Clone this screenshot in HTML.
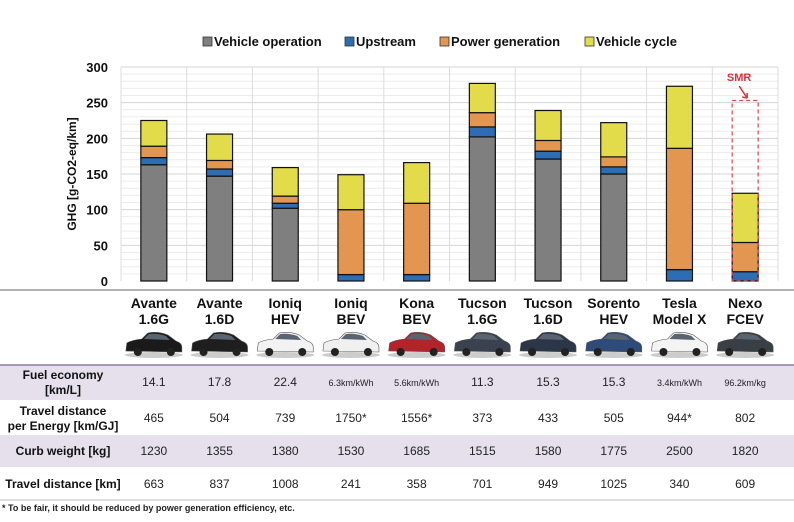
<!DOCTYPE html>
<html><head><meta charset="utf-8"><style>
body{margin:0;background:#fff;font-family:"Liberation Sans","Noto Sans CJK KR",sans-serif;}
svg text{font-family:"Liberation Sans","Noto Sans CJK KR",sans-serif;}
</style></head><body>
<svg id="c" width="794" height="517" viewBox="0 0 794 517"></svg>
<script>
const categories=[["Avante","1.6G"],["Avante","1.6D"],["Ioniq","HEV"],["Ioniq","BEV"],["Kona","BEV"],["Tucson","1.6G"],["Tucson","1.6D"],["Sorento","HEV"],["Tesla","Model X"],["Nexo","FCEV"]];
const vehicleOperation=[163,147,102,0,0,202,171,150,0,0];
const upstream=[10,10,7,9,9,14,11,10,16,13];
const powerGeneration=[16,12,10,91,100,20,15,14,170,41];
const vehicleCycle=[36,37,40,49,57,41,42,48,87,69];
const smrTotal=253;
const yTicks=[0,50,100,150,200,250,300];
const carColors=["#1a1a1a","#1e1e1e","#f2f2f2","#f0f0f0","#b3232a","#3a4250","#2b3648","#2f4b7a","#f4f4f4","#3a3f45"];
const rowLabels=[["Fuel economy","[km/L]"],["Travel distance","per Energy [km/GJ]"],["Curb weight [kg]"],["Travel distance [km]"]];
const fuelEconomy=["14.1","17.8","22.4","6.3km/kWh","5.6km/kWh","11.3","15.3","15.3","3.4km/kWh","96.2km/kg"];
const travelPerEnergy=["465","504","739","1750*","1556*","373","433","505","944*","802"];
const curbWeight=["1230","1355","1380","1530","1685","1515","1580","1775","2500","1820"];
const travelDistance=["663","837","1008","241","358","701","949","1025","340","609"];

const svg=document.getElementById('c');const NS="http://www.w3.org/2000/svg";
function mk(t,a,p){const e=document.createElementNS(NS,t);for(const k in a)e.setAttribute(k,a[k]);(p||svg).appendChild(e);return e;}
const x0=121,x1=778,yTop=67,yBot=281,yMax=300;
const band=(x1-x0)/categories.length;
const y=v=>yBot-(v/yMax)*(yBot-yTop);
const cx=i=>x0+band*(i+0.5);
// minor grid
for(let v=10;v<=yMax;v+=10){const g=mk('line',{x1:x0,x2:x1,y1:y(v),y2:y(v),stroke:v%50?'#ececec':'#d4d4d4','stroke-width':1});}
for(let i=0;i<=categories.length;i++){const g=mk('line',{x1:x0+band*i,x2:x0+band*i,y1:yTop,y2:yBot,stroke:'#dcdcdc'});}
yTicks.forEach(v=>{const t=mk('text',{x:108,y:y(v)+5,'text-anchor':'end','font-size':13,'font-weight':'bold',fill:'#111'});t.textContent=v;});
const yt=mk('text',{x:0,y:0,transform:'translate(76,174) rotate(-90)','text-anchor':'middle','font-size':12,'font-weight':'bold',fill:'#111'});yt.textContent='GHG [g-CO2-eq/km]';
const series=[[vehicleOperation,'#7f7f7f','vehicle-operation'],[upstream,'#2e6db4','upstream'],[powerGeneration,'#e3964f','power-generation'],[vehicleCycle,'#e3dc4a','vehicle-cycle']];
const bw=26;
categories.forEach((c,i)=>{let base=0;series.forEach(s=>{const v=s[0][i];if(v>0){const r=mk('rect',{x:cx(i)-bw/2,y:y(base+v),width:bw,height:y(base)-y(base+v),fill:s[1],stroke:'#111','stroke-width':1.2});}base+=v;});});
// SMR dashed
{const i=9;const r=mk('rect',{x:cx(i)-bw/2,y:y(smrTotal),width:bw,height:y(0)-y(smrTotal),fill:'none',stroke:'#e0464a','stroke-dasharray':'4,3','stroke-width':1.2});
const t=mk('text',{x:cx(i)-6,y:81,'text-anchor':'middle','font-size':11,'font-weight':'bold',fill:'#d8343a'});t.textContent='SMR';
const a=mk('path',{d:`M${cx(i)-6} 86 L${cx(i)+2} 98 M${cx(i)+2} 98 l-5 -1 M${cx(i)+2} 98 l0 -5`,stroke:'#d8343a','stroke-width':1.5,fill:'none'});}
// legend
const leg=[[203,'Vehicle operation','#7f7f7f'],[345,'Upstream','#2e6db4'],[440,'Power generation','#e3964f'],[585,'Vehicle cycle','#e3dc4a']];
leg.forEach(l=>{const g=mk('g',{});mk('rect',{x:l[0],y:37,width:9,height:9,fill:l[2],stroke:'#333','stroke-width':0.8},g);const t=mk('text',{x:l[0]+11,y:46,'font-size':13,'font-weight':'bold',fill:'#111'},g);t.textContent=l[1];});
// table
mk('line',{x1:0,x2:794,y1:290,y2:290,stroke:'#999','stroke-width':1.5});
[[365,35],[435,32]].forEach(r=>{const e=mk('rect',{x:0,y:r[0],width:794,height:r[1],fill:'#e5e0ec'});});
mk('line',{x1:0,x2:794,y1:365,y2:365,stroke:'#8a7a9e','stroke-width':1.5});
mk('line',{x1:0,x2:794,y1:500,y2:500,stroke:'#bbb','stroke-width':1});
categories.forEach((c,i)=>{const t1=mk('text',{x:cx(i),y:308,'text-anchor':'middle','font-size':14,'font-weight':'bold',fill:'#111'});t1.textContent=c[0];
const t2=mk('text',{x:cx(i),y:324,'text-anchor':'middle','font-size':14,'font-weight':'bold',fill:'#111'});t2.textContent=c[1];
const g=mk('g',{transform:`translate(${cx(i)},345)`});
mk('ellipse',{cx:0,cy:10,rx:29,ry:3,fill:'#ccc'},g);
mk('path',{d:'M-28 6 L-27 -2 Q-22 -5 -12 -6 L-6 -12 Q4 -14 14 -10 L22 -4 Q28 -2 28 2 L28 7 Z',fill:carColors[i],stroke:'#555','stroke-width':0.6},g);
mk('path',{d:'M-10 -6 L-5 -11 Q4 -12 12 -9 L16 -5 Z',fill:'#5a6470'},g);
mk('circle',{cx:-16,cy:7,r:4,fill:'#222'},g);mk('circle',{cx:17,cy:7,r:4,fill:'#222'},g);});
const rows=[[382,fuelEconomy],[418,travelPerEnergy],[451,curbWeight],[484,travelDistance]];
rowLabels.forEach((l,r)=>{const yy=rows[r][0];if(l.length===2){[0,1].forEach(k=>{const t=mk('text',{x:63,y:yy-3+k*15,'text-anchor':'middle','font-size':12,'font-weight':'bold',fill:'#111'});t.textContent=l[k];});}else{const t=mk('text',{x:63,y:yy+4,'text-anchor':'middle','font-size':12,'font-weight':'bold',fill:'#111'});t.textContent=l[0];}
rows[r][1].forEach((v,i)=>{const t=mk('text',{x:cx(i),y:yy+4,'text-anchor':'middle','font-size':v.length>6?9:12,fill:'#222'});t.textContent=v;});});
const fn=mk('text',{x:2,y:511,'font-size':9,'font-weight':'bold',fill:'#222'});fn.textContent='* To be fair, it should be reduced by power generation efficiency, etc.';
</script>
</body></html>
